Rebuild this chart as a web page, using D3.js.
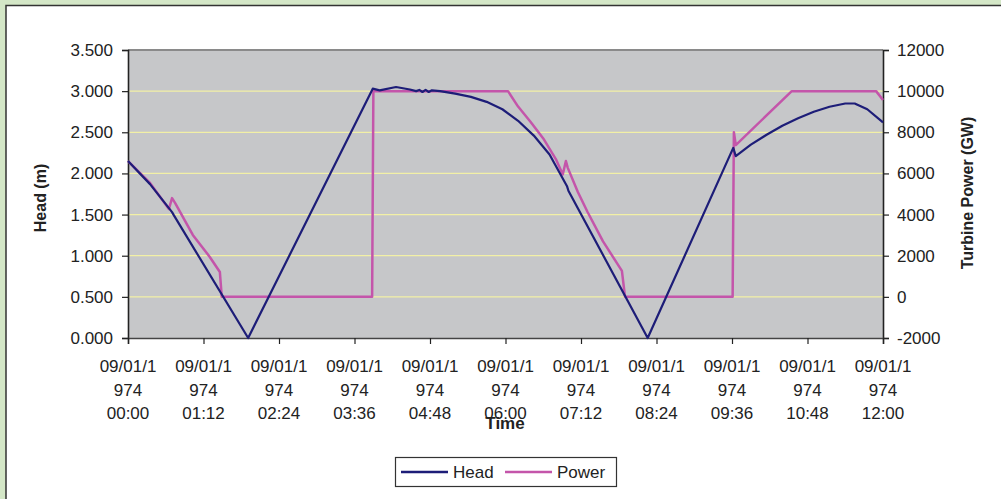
<!DOCTYPE html>
<html><head><meta charset="utf-8">
<script src="https://cdn.jsdelivr.net/npm/d3@7"></script>
<style>body{margin:0;background:#fff}svg{display:block}text{font-family:"Liberation Sans",Arial,sans-serif;fill:#222}</style>
</head><body>
<svg id="c" width="1001" height="499"></svg>
<script>
// Time in hours after 09/01/1974 00:00
const headTime  = [0.00,0.35,0.70,0.73,1.91,3.89,4.00,4.26,4.48,4.58,4.63,4.68,4.73,4.78,4.83,4.96,5.20,5.45,5.70,5.95,6.20,6.45,6.70,6.98,7.00,8.26,9.62,9.66,9.90,10.15,10.40,10.65,10.90,11.15,11.40,11.55,11.75,12.00];
const headValue = [2.15,1.87,1.53,1.49,0.00,3.03,3.01,3.05,3.02,3.00,3.015,2.99,3.015,2.99,3.01,3.00,2.97,2.93,2.87,2.78,2.64,2.46,2.23,1.84,1.79,0.00,2.31,2.21,2.35,2.47,2.58,2.67,2.75,2.81,2.85,2.85,2.78,2.62];
const powerTime  = [0.00,0.35,0.65,0.70,0.75,1.03,1.30,1.46,1.49,3.88,3.90,6.04,6.20,6.40,6.60,6.80,6.91,6.96,6.99,7.15,7.30,7.55,7.85,7.90,9.61,9.63,9.66,10.55,11.89,12.00];
const powerValue = [6600,5535,4270,4800,4560,3010,1940,1210,0,0,10000,10000,9250,8500,7700,6700,5950,6600,6270,5100,4150,2700,1260,0,0,8000,7380,10000,10000,9570];
const headTicks  = [0,0.5,1,1.5,2,2.5,3,3.5];
const powerTicks = [-2000,0,2000,4000,6000,8000,10000,12000];
const timeTicks  = [0,1.2,2.4,3.6,4.8,6.0,7.2,8.4,9.6,10.8,12.0];
const timeTickLabels = [["09/01/1","974","00:00"],["09/01/1","974","01:12"],["09/01/1","974","02:24"],["09/01/1","974","03:36"],["09/01/1","974","04:48"],["09/01/1","974","06:00"],["09/01/1","974","07:12"],["09/01/1","974","08:24"],["09/01/1","974","09:36"],["09/01/1","974","10:48"],["09/01/1","974","12:00"]];
const seriesNames = ["Head","Power"];

const svg = d3.select("#c");
const L=128,R=883,T=50,B=338;
const headCol="#1d1d78", powerCol="#c455aa";

// outer background
svg.append("rect").attr("width",1001).attr("height",499).attr("fill","#d4e7c7");
svg.append("rect").attr("x",6).attr("y",5.5).attr("width",1010).attr("height",510).attr("fill","#fff").attr("stroke","#333").attr("stroke-width",1.5);

const x = d3.scaleLinear().domain([0,12]).range([L,R]);
const yH = d3.scaleLinear().domain([0,3.5]).range([B,T]);
const yP = d3.scaleLinear().domain([-2000,12000]).range([B,T]);

svg.append("rect").attr("x",L).attr("y",T).attr("width",R-L).attr("height",B-T).attr("fill","#c6c7c9");
// gridlines
svg.append("g").selectAll("line").data(headTicks.filter(d=>d>0&&d<3.5)).join("line")
  .attr("x1",L).attr("x2",R).attr("y1",d=>yH(d)).attr("y2",d=>yH(d))
  .attr("stroke","#f2f0a6").attr("stroke-width",1.2);
// top border
svg.append("line").attr("x1",L).attr("x2",R).attr("y1",T).attr("y2",T).attr("stroke","#8a8a8a").attr("stroke-width",2);

// axes
const fmt = d3.format(".3f");
const gl = svg.append("g").attr("transform",`translate(${L},0)`)
  .call(d3.axisLeft(yH).tickValues(headTicks).tickFormat(fmt).tickSize(6).tickPadding(9));
const gr = svg.append("g").attr("transform",`translate(${R},0)`)
  .call(d3.axisRight(yP).tickValues(powerTicks).tickFormat(d=>String(d)).tickSize(6).tickPadding(8));
const gb = svg.append("g").attr("transform",`translate(0,${B})`)
  .call(d3.axisBottom(x).tickValues(timeTicks).tickFormat("").tickSize(6));
[gl,gr,gb].forEach(g=>{
  g.select(".domain").attr("stroke","#222").attr("stroke-width",1.6);
  g.selectAll(".tick line").attr("stroke","#222").attr("stroke-width",1.2);
  g.selectAll("text").attr("font-size",17).attr("fill","#222").attr("font-family","Liberation Sans, Arial, sans-serif");
});
gb.select(".domain").attr("stroke","#444");

// x tick labels (3 lines)
const xl = svg.append("g").selectAll("text").data(timeTicks).join("text")
  .attr("text-anchor","middle").attr("font-size",17);
xl.each(function(d,i){
  const t=d3.select(this);
  timeTickLabels[i].forEach((s,j)=>{
    t.append("tspan").attr("x",x(d)).attr("y",372+j*23.5).text(s);
  });
});

// titles
svg.append("text").attr("x",505).attr("y",429).attr("text-anchor","middle").attr("font-size",17).attr("font-weight","bold").text("Time");
svg.append("text").attr("transform","translate(46,198) rotate(-90)").attr("text-anchor","middle").attr("font-size",16).attr("font-weight","bold").text("Head (m)");
svg.append("text").attr("transform","translate(973,193) rotate(-90)").attr("text-anchor","middle").attr("font-size",16).attr("font-weight","bold").text("Turbine Power (GW)");

// lines
const headData = headTime.map((t,i)=>[t,headValue[i]]);
const powerData = powerTime.map((t,i)=>[t,powerValue[i]]);
svg.append("path").datum(powerData).attr("fill","none").attr("stroke",powerCol).attr("stroke-width",2.5)
  .attr("stroke-linejoin","round").attr("d",d3.line().x(d=>x(d[0])).y(d=>yP(d[1])));
svg.append("path").datum(headData).attr("fill","none").attr("stroke",headCol).attr("stroke-width",2.2)
  .attr("stroke-linejoin","round").attr("d",d3.line().x(d=>x(d[0])).y(d=>yH(d[1])));

// legend
const lg = svg.append("g");
lg.append("rect").attr("x",395.5).attr("y",457.5).attr("width",221).attr("height",29).attr("fill","#fff").attr("stroke","#333").attr("stroke-width",1.2);
const cols=[headCol,powerCol], lx=[401,505];
seriesNames.forEach((n,i)=>{
  lg.append("line").attr("x1",lx[i]).attr("x2",lx[i]+47).attr("y1",472).attr("y2",472).attr("stroke",cols[i]).attr("stroke-width",2.5);
  lg.append("text").attr("x",lx[i]+52).attr("y",478).attr("font-size",17).text(n);
});
</script>
</body></html>
